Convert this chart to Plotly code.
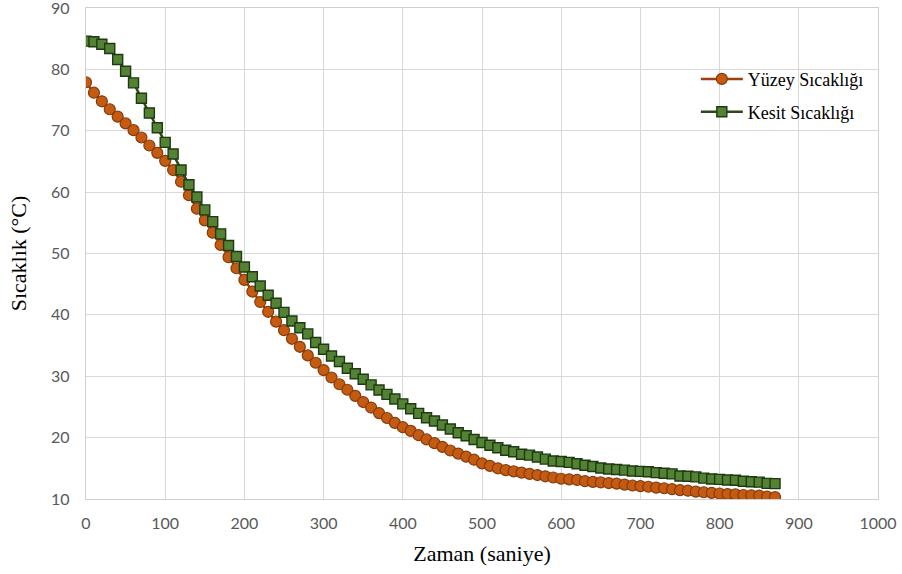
import plotly.graph_objects as go

time_s = list(range(0, 880, 10))

yuzey = [77.9, 76.2, 74.8, 73.5, 72.3, 71.2, 70.1, 68.9, 67.6, 66.4,
         65.1, 63.6, 61.7, 59.5, 57.3, 55.4, 53.4, 51.4, 49.4, 47.6,
         45.7, 43.8, 42.1, 40.5, 38.9, 37.5, 36.1, 34.8, 33.4, 32.2,
         31.0, 29.8, 28.7, 27.8, 26.8, 25.8, 24.9, 24.0, 23.2, 22.4,
         21.7, 21.1, 20.4, 19.7, 19.1, 18.5, 17.9, 17.4, 16.9, 16.4,
         15.8, 15.4, 15.0, 14.7, 14.5, 14.3, 14.1, 13.9, 13.7, 13.5,
         13.3, 13.2, 13.1, 12.9, 12.8, 12.7, 12.6, 12.5, 12.35, 12.2,
         12.1, 12.0, 11.85, 11.75, 11.6, 11.45, 11.35, 11.2, 11.1, 11.0,
         10.9, 10.8, 10.75, 10.65, 10.6, 10.55, 10.4, 10.3]

kesit = [84.6, 84.5, 84.1, 83.4, 81.6, 79.7, 77.8, 75.3, 72.9, 70.5,
         68.1, 66.2, 63.6, 61.2, 59.2, 57.1, 55.2, 53.2, 51.3, 49.5,
         47.8, 46.2, 44.7, 43.2, 41.9, 40.4, 39.0, 37.9, 36.9, 35.5,
         34.4, 33.3, 32.4, 31.3, 30.4, 29.5, 28.6, 27.75, 27.05, 26.3,
         25.5, 24.7, 23.95, 23.25, 22.7, 22.05, 21.4, 20.8, 20.3, 19.7,
         19.2, 18.75, 18.35, 17.95, 17.7, 17.3, 17.15, 16.85, 16.5, 16.2,
         16.1, 15.97, 15.75, 15.5, 15.3, 15.05, 14.9, 14.8, 14.7, 14.55,
         14.5, 14.45, 14.3, 14.2, 14.1, 13.75, 13.7, 13.6, 13.4, 13.25,
         13.2, 13.1, 13.05, 12.9, 12.8, 12.75, 12.55, 12.5]

x_ticks = [0, 100, 200, 300, 400, 500, 600, 700, 800, 900, 1000]
y_ticks = [10, 20, 30, 40, 50, 60, 70, 80, 90]

fig = go.Figure()
fig.add_trace(go.Scatter(
    x=time_s, y=yuzey, name="Yüzey Sıcaklığı", mode="lines+markers",
    line=dict(color="#9E3F0E", width=2.5),
    marker=dict(symbol="circle", size=11, color="#C55A11",
                line=dict(color="#843C0C", width=1.2)),
    legend="legend"))
fig.add_trace(go.Scatter(
    x=time_s, y=kesit, name="Kesit Sıcaklığı", mode="lines+markers",
    line=dict(color="#2A4A1A", width=2.5),
    marker=dict(symbol="square", size=10, color="#548235",
                line=dict(color="#1E3A10", width=1.4)),
    legend="legend2"))

axis_common = dict(
    showgrid=True, gridcolor="#D9D9D9", gridwidth=1.3,
    showline=True, linecolor="#D0D0D0", linewidth=1.3, mirror=True,
    zeroline=False, ticks="", automargin=False, ticklabeloverflow="allow",
    tickfont=dict(family="Lato, Open Sans, sans-serif", size=16, color="#595959"),
)

serif = "Liberation Serif, Times New Roman, serif"

fig.update_layout(
    width=902, height=574,
    margin=dict(l=86, r=24, t=8, b=75),
    paper_bgcolor="white", plot_bgcolor="white",
    xaxis=dict(range=[0, 1000], tickvals=x_ticks, **axis_common,
               ticklabelstandoff=10,
               title=dict(text="Zaman (saniye)", standoff=14,
                          font=dict(family=serif, size=22, color="black"))),
    yaxis=dict(range=[10, 90], tickvals=y_ticks, **axis_common,
               ticklabelstandoff=12,
               title=dict(text="Sıcaklık (°C)", standoff=18,
                          font=dict(family=serif, size=22, color="black"))),
    legend=dict(x=0.77, y=0.855, xanchor="left", yanchor="middle",
                bgcolor="rgba(0,0,0,0)", itemwidth=42,
                font=dict(family=serif, size=18, color="black")),
    legend2=dict(x=0.77, y=0.788, xanchor="left", yanchor="middle",
                 bgcolor="rgba(0,0,0,0)", itemwidth=42,
                 font=dict(family=serif, size=18, color="black")),
    showlegend=True,
)

fig.write_html("out.html",
               config={"displayModeBar": False},
               post_script="document.body.style.margin='0px';document.body.style.overflow='hidden';")
